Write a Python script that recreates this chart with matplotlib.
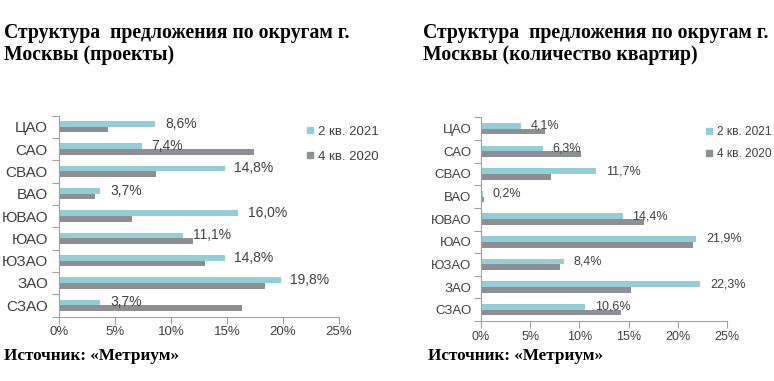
import matplotlib.pyplot as plt
from matplotlib.lines import Line2D

# Округа и доли (в %)
okruga = ['ЦАО', 'САО', 'СВАО', 'ВАО', 'ЮВАО', 'ЮАО', 'ЮЗАО', 'ЗАО', 'СЗАО']

proekty_2021 = [8.6, 7.4, 14.8, 3.7, 16.0, 11.1, 14.8, 19.8, 3.7]
proekty_2020 = [4.35, 17.4, 8.7, 3.2, 6.5, 12.0, 13.0, 18.4, 16.3]
proekty_labels = ['8,6%', '7,4%', '14,8%', '3,7%', '16,0%', '11,1%', '14,8%', '19,8%', '3,7%']

kvartiry_2021 = [4.1, 6.3, 11.7, 0.2, 14.4, 21.9, 8.4, 22.3, 10.6]
kvartiry_2020 = [6.5, 10.2, 7.1, 0.35, 16.6, 21.55, 8.0, 15.2, 14.25]
kvartiry_labels = ['4,1%', '6,3%', '11,7%', '0,2%', '14,4%', '21,9%', '8,4%', '22,3%', '10,6%']

xticks = [0, 5, 10, 15, 20, 25]
xtick_labels = ['0%', '5%', '10%', '15%', '20%', '25%']
series_names = ['2 кв. 2021', '4 кв. 2020']

teal = '#93CDD8'
gray = '#8C9095'
txt = '#404040'
spine = '#A0A0A0'

W, H = 774, 381
fig = plt.figure(figsize=(W / 100, H / 100), dpi=100)


def px(x0, y0, x1, y1):
    # пиксели -> координаты фигуры
    return [x0 / W, 1 - y1 / H, (x1 - x0) / W, (y1 - y0) / H]


def draw(rect, v21, v20, labels, fs_cat, pad_cat, fs_val, fs_x, leg_xy, leg_fs, leg_sp):
    ax = fig.add_axes(rect)
    y = list(range(len(okruga)))
    h = 0.255
    ax.barh([i - h / 2 for i in y], v21, height=h, color=teal)
    ax.barh([i + h / 2 for i in y], v20, height=h, color=gray)
    for i, (v, s) in enumerate(zip(v21, labels)):
        ax.annotate(s, (v, i - h / 2), xytext=(7, 0), textcoords='offset points',
                    va='center', ha='left', fontsize=fs_val, color=txt,
                    family='Liberation Sans')
    ax.set_xlim(0, 25)
    ax.set_ylim(len(okruga) - 0.5, -0.5)
    ax.set_yticks(y)
    ax.set_yticklabels(okruga, fontsize=fs_cat, color=txt, family='Liberation Sans')
    ax.set_yticks([i - 0.5 for i in range(len(okruga) + 1)], minor=True)
    ax.tick_params(axis='y', which='major', length=0, pad=pad_cat)
    ax.tick_params(axis='y', which='minor', length=5, color=spine, width=0.8)
    ax.set_xticks(xticks)
    ax.set_xticklabels(xtick_labels, fontsize=fs_x, color=txt, family='Liberation Sans')
    ax.tick_params(axis='x', length=5, color=spine, width=0.8, pad=2)
    for side in ['top', 'right']:
        ax.spines[side].set_visible(False)
    for side in ['left', 'bottom']:
        ax.spines[side].set_color(spine)
        ax.spines[side].set_linewidth(0.8)
    handles = [Line2D([], [], marker='s', ls='none', color=c, markersize=4)
               for c in (teal, gray)]
    leg = ax.legend(handles, series_names, loc='upper left',
                    bbox_to_anchor=(leg_xy[0] / W, 1 - leg_xy[1] / H),
                    bbox_transform=fig.transFigure, frameon=False, borderpad=0,
                    handlelength=0.5, handletextpad=0.4, labelspacing=leg_sp,
                    prop={'family': 'Liberation Sans', 'size': leg_fs})
    for t in leg.get_texts():
        t.set_color(txt)
    return ax


draw(px(59, 115.5, 339, 316.5), proekty_2021, proekty_2020, proekty_labels,
     11, 8, 10, 9.5, (300, 119), 9.5, 0.95)
draw(px(481, 117.4, 727, 321), kvartiry_2021, kvartiry_2020, kvartiry_labels,
     9.5, 7, 9, 9, (700, 120), 8.6, 0.85)

title_font = {'family': 'Liberation Serif', 'weight': 'bold', 'size': 14.2}
src_font = {'family': 'Liberation Serif', 'weight': 'bold', 'size': 12.3}
fig.text(4 / W, 1 - 33 / H, 'Структура  предложения по округам г.', va='center', **title_font)
fig.text(4 / W, 1 - 55 / H, 'Москвы (проекты)', va='center', **title_font)
fig.text(423 / W, 1 - 33 / H, 'Структура  предложения по округам г.', va='center', **title_font)
fig.text(423 / W, 1 - 55 / H, 'Москвы (количество квартир)', va='center', **title_font)
fig.text(4 / W, 1 - 356 / H, 'Источник: «Метриум»', va='center', **src_font)
fig.text(428 / W, 1 - 356 / H, 'Источник: «Метриум»', va='center', **src_font)

fig.savefig('out.png', dpi=100)
